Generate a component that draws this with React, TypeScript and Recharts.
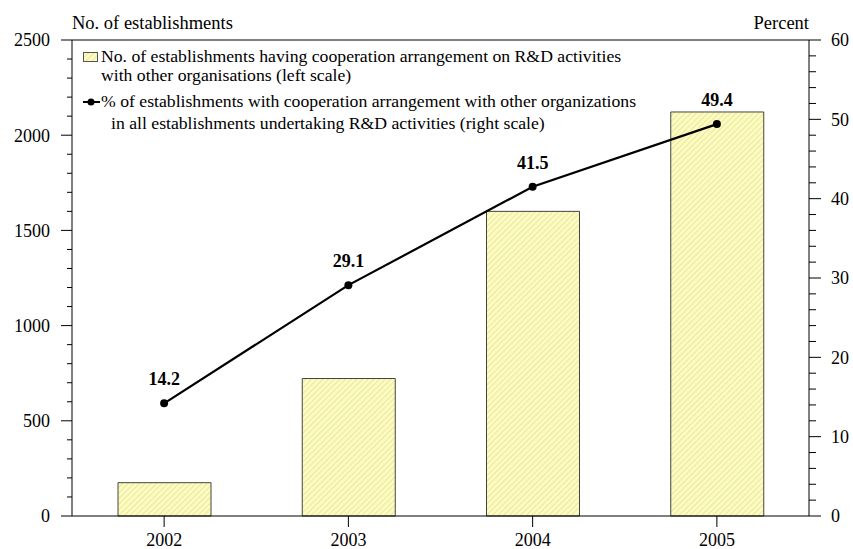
import { ComposedChart, Bar, Line, XAxis, YAxis, ReferenceLine, LabelList } from "recharts";

const years = ["2002", "2003", "2004", "2005"];
const establishments = [175, 722, 1600, 2122];
const percentShare = [14.2, 29.1, 41.5, 49.4];
const leftTicks = [0, 100, 200, 300, 400, 500, 600, 700, 800, 900, 1000, 1100, 1200, 1300, 1400, 1500, 1600, 1700, 1800, 1900, 2000, 2100, 2200, 2300, 2400, 2500];
const rightTicks = [0, 2, 4, 6, 8, 10, 12, 14, 16, 18, 20, 22, 24, 26, 28, 30, 32, 34, 36, 38, 40, 42, 44, 46, 48, 50, 52, 54, 56, 58, 60];

const data = years.map((y, i) => ({ year: y, count: establishments[i], pct: percentShare[i] }));

const FONT = "'Liberation Serif', 'Times New Roman', serif";
const FILL = "#fdfcb8";
const HATCH = "#d8d6b4";

const LeftTick = (props: any) => {
  const { x, y, payload } = props;
  const major = payload.value % 500 === 0;
  return (
    <g>
      <line x1={x} x2={x - (major ? 11 : 5)} y1={y} y2={y} stroke="#000" strokeWidth={1} />
      {major && (
        <text x={x - 22} y={y} dy="0.35em" textAnchor="end" fontSize={18} fontFamily={FONT} fill="#000">
          {payload.value}
        </text>
      )}
    </g>
  );
};

const RightTick = (props: any) => {
  const { x, y, payload } = props;
  const major = payload.value % 10 === 0;
  return (
    <g>
      <line x1={x} x2={x + (major ? 12 : 7)} y1={y} y2={y} stroke="#000" strokeWidth={1} />
      {major && (
        <text x={x + 22} y={y} dy="0.35em" textAnchor="start" fontSize={18} fontFamily={FONT} fill="#000">
          {payload.value}
        </text>
      )}
    </g>
  );
};

const BottomTick = (props: any) => {
  const { x, y, payload } = props;
  return (
    <g>
      <line x1={x} x2={x} y1={y} y2={y + 11} stroke="#000" strokeWidth={1} />
      <text x={x} y={y + 30} textAnchor="middle" fontSize={18} fontFamily={FONT} fill="#000">
        {payload.value}
      </text>
    </g>
  );
};

const PointLabel = (props: any) => {
  const { x, y, value } = props;
  return (
    <text x={x} y={y - 18} textAnchor="middle" fontSize={18} fontWeight={700} fontFamily={FONT} fill="#000">
      {Number(value).toFixed(1)}
    </text>
  );
};

// legend sits inside the plot, top-left, drawn as an html overlay
const LegendBox = () => {
  const row: React.CSSProperties = { display: "flex", alignItems: "center", whiteSpace: "nowrap" };
  return (
    <div style={{ position: "absolute", left: 83, top: 47, fontFamily: FONT, fontSize: 17.7, color: "#000", lineHeight: "19px" }}>
      <div style={row}>
        <svg width={16} height={10} style={{ marginRight: 2 }}>
          <defs>
            <pattern id="hatchLegend" patternUnits="userSpaceOnUse" width={4} height={4} patternTransform="rotate(45)">
              <rect width={4} height={4} fill={FILL} />
              <line x1={0} y1={0} x2={0} y2={4} stroke={HATCH} strokeWidth={1.2} />
            </pattern>
          </defs>
          <rect x={0.5} y={0.5} width={14} height={9} fill="url(#hatchLegend)" stroke="#555" strokeWidth={1} />
        </svg>
        <span>No. of establishments having cooperation arrangement on R&amp;D activities</span>
      </div>
      <div style={{ paddingLeft: 18 }}>with other organisations (left scale)</div>
      <div style={{ ...row, marginTop: 7 }}>
        <svg width={17} height={10} style={{ marginRight: 1 }}>
          <line x1={0} x2={17} y1={5} y2={5} stroke="#000" strokeWidth={2} />
          <circle cx={8} cy={5} r={3.5} fill="#000" />
        </svg>
        <span>% of establishments with cooperation arrangement with other organizations</span>
      </div>
      <div style={{ paddingLeft: 28, marginTop: 3 }}>in all establishments undertaking R&amp;D activities (right scale)</div>
    </div>
  );
};

export default function App() {
  return (
    <div style={{ position: "absolute", left: 0, top: 0, width: 853, height: 549, background: "#fff" }}>
      <ComposedChart width={853} height={549} data={data} margin={{ top: 40, right: 4, left: 12, bottom: 3 }}>
        <defs>
          <pattern id="hatch" patternUnits="userSpaceOnUse" width={4} height={4} patternTransform="rotate(45)">
            <rect width={4} height={4} fill={FILL} />
            <line x1={0} y1={0} x2={0} y2={4} stroke={HATCH} strokeWidth={1.2} />
          </pattern>
        </defs>
        <XAxis
          dataKey="year"
          height={30}
          axisLine={{ stroke: "#000" }}
          tickLine={false}
          tickSize={0}
          tickMargin={0}
          tick={<BottomTick />}
          interval={0}
        />
        <YAxis
          yAxisId="left"
          orientation="left"
          width={60}
          domain={[0, 2500]}
          ticks={leftTicks}
          interval={0}
          axisLine={{ stroke: "#000" }}
          tickLine={false}
          tickSize={0}
          tickMargin={0}
          tick={<LeftTick />}
          label={{
            content: (p: any) => (
              <text x={p.viewBox.x + p.viewBox.width} y={29} textAnchor="start" fontSize={18.5} fontFamily={FONT} fill="#000">
                No. of establishments
              </text>
            ),
          }}
        />
        <YAxis
          yAxisId="right"
          orientation="right"
          width={40}
          domain={[0, 60]}
          ticks={rightTicks}
          interval={0}
          axisLine={{ stroke: "#000" }}
          tickLine={false}
          tickSize={0}
          tickMargin={0}
          tick={<RightTick />}
          label={{
            content: (p: any) => (
              <text x={p.viewBox.x} y={29} textAnchor="end" fontSize={18.5} fontFamily={FONT} fill="#000">
                Percent
              </text>
            ),
          }}
        />
        <ReferenceLine yAxisId="left" y={2500} stroke="#000" strokeWidth={1} />
        <Bar yAxisId="left" dataKey="count" barSize={93} fill="url(#hatch)" stroke="#444" strokeWidth={1} isAnimationActive={false} />
        <Line
          yAxisId="right"
          dataKey="pct"
          type="linear"
          stroke="#000"
          strokeWidth={2.2}
          dot={{ r: 4, fill: "#000", stroke: "#000", strokeWidth: 0 }}
          activeDot={false}
          isAnimationActive={false}
        >
          <LabelList dataKey="pct" content={<PointLabel />} />
        </Line>
      </ComposedChart>
      <LegendBox />
    </div>
  );
}
